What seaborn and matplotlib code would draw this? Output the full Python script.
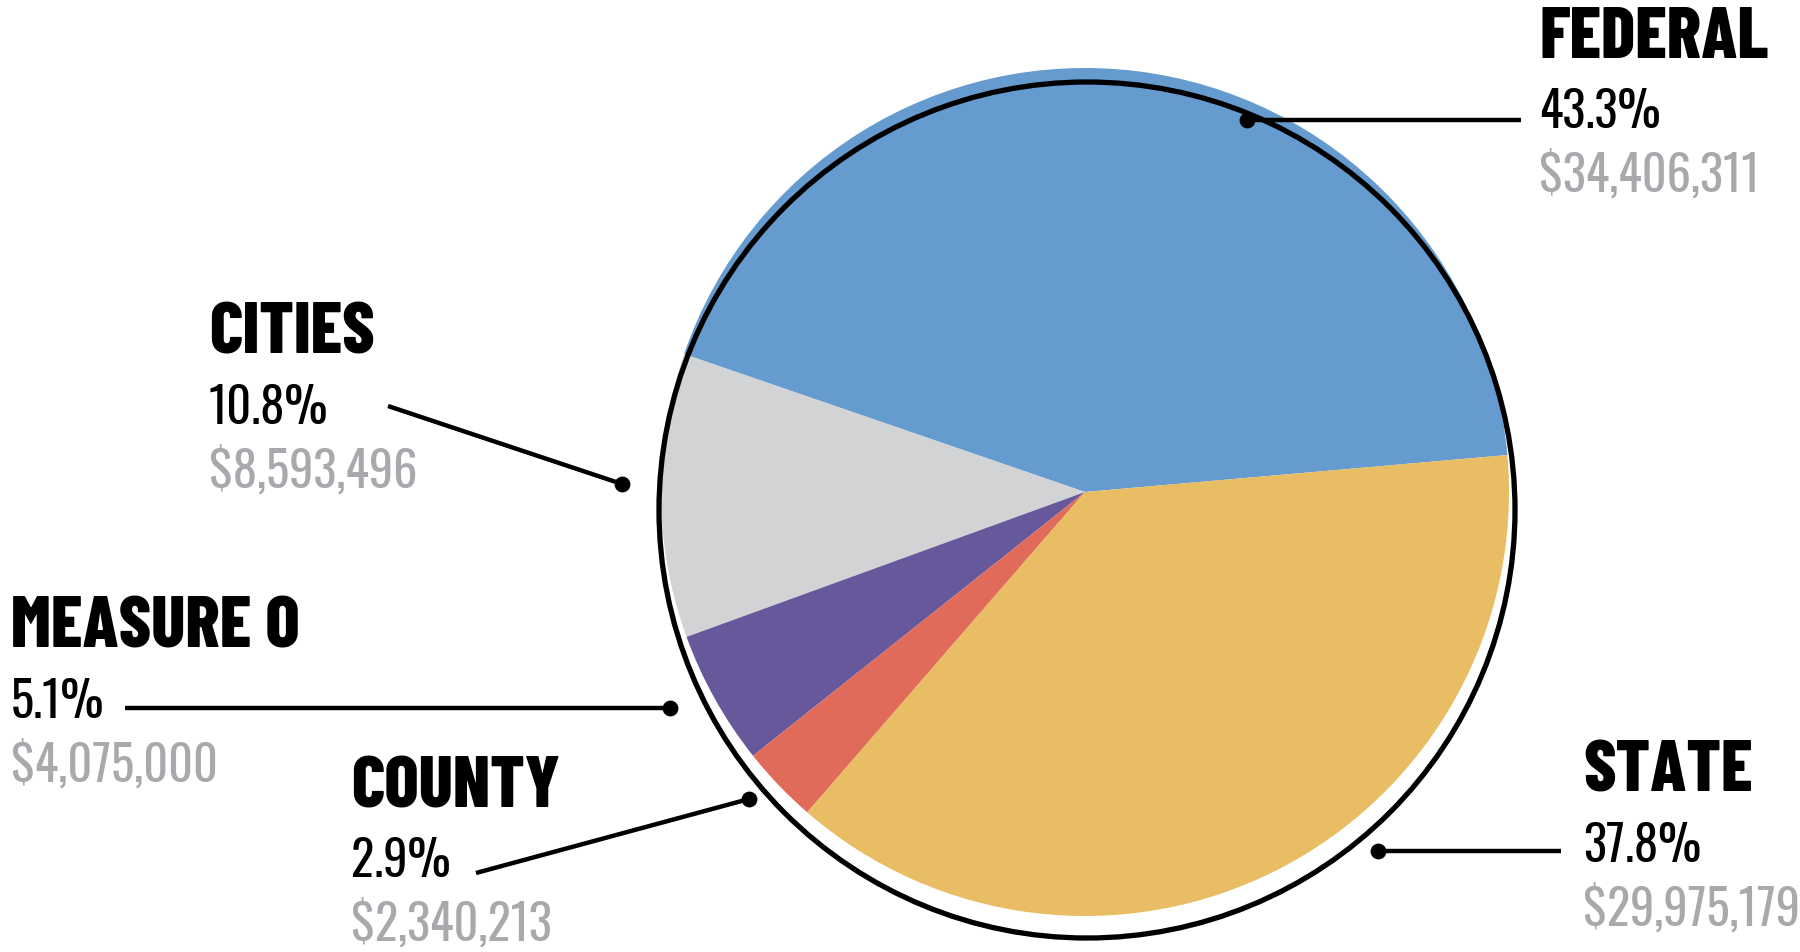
import matplotlib
matplotlib.use("Agg")
import matplotlib.pyplot as plt
from matplotlib.patches import Circle
from matplotlib.font_manager import FontProperties
from matplotlib.textpath import TextPath
import seaborn as sns

# Funding sources, listed counter-clockwise from the right-hand edge of the pie
sources = ["FEDERAL", "CITIES", "MEASURE O", "COUNTY", "STATE"]
dollars = [34406311, 8593496, 4075000, 2340213, 29975179]
slice_colors = ["#659BCE", "#D1D3D4", "#67589C", "#E06B5A", "#E8BD63"]

W, H = 1800, 952

sns.set_theme(style="white")
plt.rcParams["font.family"] = ["Oswald", "DejaVu Sans"]

HEAD_FONT = FontProperties(family=["Barlow Condensed", "DejaVu Sans"], weight=800)
NUM_FONT = FontProperties(family=["Oswald", "DejaVu Sans"], weight=400)


def size_for(prop, sample, px_height):
    """Point size whose glyphs in `sample` are `px_height` pixels tall at 100 dpi."""
    ink = TextPath((0, 0), sample, size=1, prop=prop).get_extents().height
    return px_height / ink * 72 / 100


head_size = size_for(HEAD_FONT, "E", 50)
num_size = size_for(NUM_FONT, "0", 40)

fig = plt.figure(figsize=(W / 100, H / 100), dpi=100)
ax = fig.add_axes([0, 0, 1, 1])


def up(y):
    """Convert a top-down pixel row into the axes' bottom-up y value."""
    return H - y


total = sum(dollars)
percents = [round(100 * d / total, 1) for d in dollars]

ax.pie(dollars, colors=slice_colors, startangle=5, counterclock=True,
       center=(1085, up(492)), radius=424,
       wedgeprops=dict(linewidth=0))

# hand-drawn style outline, slightly off-centre from the fill
ax.add_patch(Circle((1087, up(510)), 428, fill=False, ec="black", lw=3.8, zorder=3))

ax.set_xlim(0, W)
ax.set_ylim(0, H)
ax.set_aspect("equal")
ax.axis("off")

# label placement: text x, heading baseline, leader dot and far end of leader
layout = {
    "FEDERAL":   dict(x=1539, y=58,  dot=(1247, 120), end=(1521, 120)),
    "STATE":     dict(x=1583, y=792, dot=(1378, 851), end=(1561, 851)),
    "CITIES":    dict(x=209,  y=354, dot=(622, 484),  end=(388, 406)),
    "MEASURE O": dict(x=11,   y=648, dot=(670, 708),  end=(125, 708)),
    "COUNTY":    dict(x=351,  y=807, dot=(749, 799),  end=(476, 873)),
}

for name, pct, amt in zip(sources, percents, dollars):
    L = layout[name]
    ax.text(L["x"], up(L["y"]), name, fontproperties=HEAD_FONT, fontsize=head_size,
            color="black", ha="left", va="baseline")
    ax.text(L["x"], up(L["y"] + 70), f"{pct:.1f}%", fontproperties=NUM_FONT,
            fontsize=num_size, color="black", ha="left", va="baseline")
    ax.text(L["x"], up(L["y"] + 134), f"${amt:,}", fontproperties=NUM_FONT,
            fontsize=num_size, color="#A7A9AC", ha="left", va="baseline")
    (dx, dy), (ex, ey) = L["dot"], L["end"]
    ax.plot([dx, ex], [up(dy), up(ey)], color="black", lw=3.2,
            solid_capstyle="butt", zorder=4)
    ax.scatter([dx], [up(dy)], s=130, color="black", zorder=5, linewidths=0)

fig.savefig("out.png", dpi=100)
